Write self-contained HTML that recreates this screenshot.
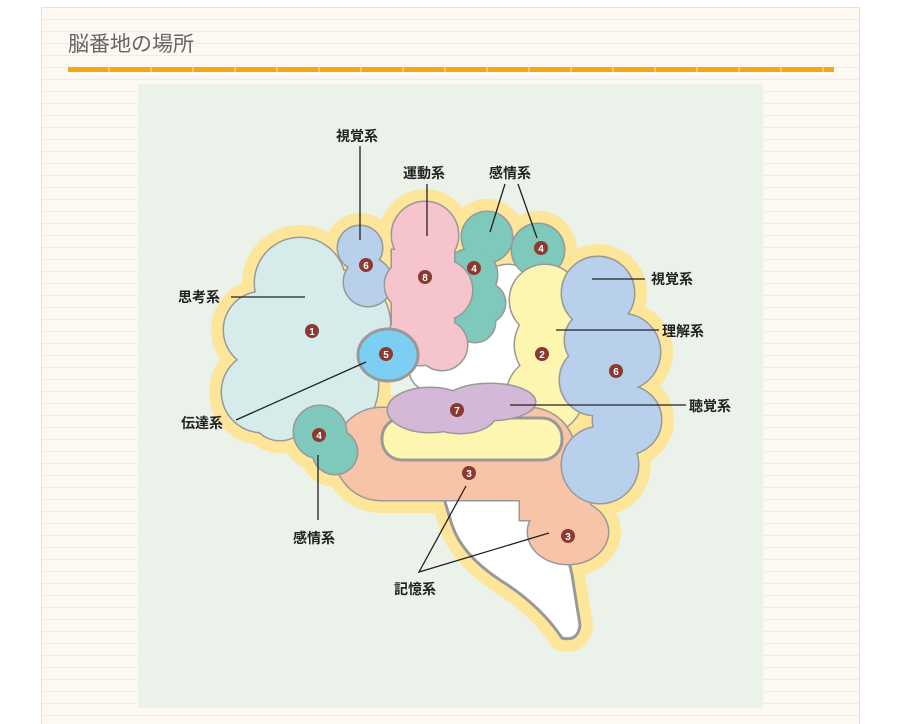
<!DOCTYPE html>
<html><head><meta charset="utf-8"><style>
body{margin:0;width:899px;height:723px;background:#fff;overflow:hidden;font-family:"Liberation Sans","Noto Sans CJK JP",sans-serif}
.card{position:absolute;left:41px;top:7px;width:817px;height:716px;border:1px solid #e6e0d6;border-bottom:none;
background-color:#fdf9f2;background-image:repeating-linear-gradient(to bottom,transparent 0,transparent 11px,#f1ebe1 11px,#f1ebe1 12px)}
.title{position:absolute;left:26px;top:20px;font-size:21px;color:#666;letter-spacing:0px}
.rule{position:absolute;left:26px;top:59px;width:766px;height:5px;background:repeating-linear-gradient(to right,#f2aa10 0,#f2aa10 40px,#f7c860 40px,#f7c860 42px)}
svg{position:absolute;left:0;top:0}
text{font-family:"Liberation Sans","Noto Sans CJK JP",sans-serif;font-weight:bold;font-size:14px;fill:#222}
.n{fill:#fff;font-size:10px;text-anchor:middle}
</style></head><body>
<div class="card"><div class="title">脳番地の場所</div><div class="rule"></div></div>
<svg width="899" height="723" viewBox="0 0 899 723">
<rect x="138" y="84" width="625" height="624" fill="#eaf2ea"/>
<defs>
<g id="r1"><circle cx="300" cy="283" r="45"/><circle cx="262" cy="330" r="38"/><circle cx="262" cy="392" r="40"/><circle cx="320" cy="385" r="58"/><circle cx="335" cy="325" r="55"/><circle cx="280" cy="410" r="30"/></g>
<g id="r6a"><circle cx="360" cy="248" r="22"/><circle cx="368" cy="282" r="24"/></g>
<g id="rw"><circle cx="508" cy="295" r="30"/><circle cx="498" cy="345" r="30"/><circle cx="450" cy="368" r="35"/><rect x="410" y="340" width="110" height="50" rx="20"/></g>
<g id="r4a"><circle cx="487" cy="237" r="25"/><circle cx="471" cy="275" r="26"/><circle cx="485" cy="303" r="20"/><circle cx="475" cy="322" r="20"/></g>
<g id="r4b"><circle cx="538" cy="250" r="26"/></g>
<g id="r8"><circle cx="425" cy="235" r="33"/><circle cx="410" cy="285" r="25"/><circle cx="442" cy="290" r="30"/><circle cx="420" cy="335" r="30"/><circle cx="442" cy="345" r="25"/><rect x="392" y="250" width="62" height="90"/></g>
<g id="r5"><ellipse cx="388" cy="355" rx="30" ry="26"/></g>
<g id="r2"><circle cx="545" cy="300" r="35"/><circle cx="555" cy="345" r="40"/><circle cx="545" cy="395" r="38"/><circle cx="535" cy="415" r="30"/></g>
<g id="r6b"><circle cx="598" cy="293" r="36"/><circle cx="622" cy="352" r="38"/><circle cx="627" cy="420" r="34"/><circle cx="600" cy="465" r="38"/><circle cx="595" cy="380" r="35"/><circle cx="595" cy="340" r="30"/></g>
<g id="rb"><path d="M442,492 L530,492 Q566,540 572,575 L580,625 Q578,642 562,638 Q540,605 500,580 Q462,555 452,525 Z"/></g>
<g id="r3"><rect x="335" y="408" width="240" height="92" rx="46"/><ellipse cx="568" cy="532" rx="40" ry="32"/><rect x="520" y="470" width="70" height="50"/></g>
<g id="r4c"><circle cx="320" cy="432" r="26"/><circle cx="335" cy="452" r="22"/></g>
<g id="ry"><rect x="382" y="418" width="180" height="42" rx="20"/></g>
<g id="r7"><ellipse cx="430" cy="410" rx="42" ry="22"/><ellipse cx="490" cy="402" rx="45" ry="18"/><ellipse cx="460" cy="415" rx="35" ry="18"/></g>
</defs>
<g fill="#fde69a" stroke="#fde69a" stroke-width="26" stroke-linejoin="round">
<use href="#r1"/><use href="#r6a"/><use href="#r8"/><use href="#r4a"/><use href="#r4b"/><use href="#r2"/><use href="#r6b"/><use href="#rb"/><use href="#r3"/><use href="#r4c"/>
</g>
<g stroke="#999" stroke-width="3">
<use href="#r1" fill="#d6ecea"/><use href="#r1" fill="#d6ecea" stroke="none"/>
<use href="#r6a" fill="#b8d0ec"/><use href="#r6a" fill="#b8d0ec" stroke="none"/>
<use href="#rw" fill="#fff"/><use href="#rw" fill="#fff" stroke="none"/>
<use href="#r4a" fill="#7ec8bc"/><use href="#r4a" fill="#7ec8bc" stroke="none"/>
<use href="#r4b" fill="#7ec8bc"/><use href="#r4b" fill="#7ec8bc" stroke="none"/>
<use href="#r8" fill="#f5c4cc"/><use href="#r8" fill="#f5c4cc" stroke="none"/>
<use href="#r5" fill="#7ccff2"/>
<use href="#r2" fill="#fdf6b0"/><use href="#r2" fill="#fdf6b0" stroke="none"/>
<use href="#rb" fill="#fff"/>
<use href="#r3" fill="#f7c4a8"/><use href="#r3" fill="#f7c4a8" stroke="none"/>
<use href="#r6b" fill="#b8d0ec"/><use href="#r6b" fill="#b8d0ec" stroke="none"/>
<use href="#ry" fill="#fdf6b0"/>
<use href="#r4c" fill="#7ec8bc"/><use href="#r4c" fill="#7ec8bc" stroke="none"/>
<use href="#r7" fill="#d4b8d8"/><use href="#r7" fill="#d4b8d8" stroke="none"/>
</g>
<g stroke="#222" stroke-width="1.3" fill="none">
<path d="M360,146 V240"/><path d="M427,184 V236"/><path d="M505,184 L490,232 M518,184 L537,238"/>
<path d="M231,297 H305"/><path d="M592,279 H645"/><path d="M556,330 H659"/><path d="M510,405 H686"/>
<path d="M236,420 L366,362"/><path d="M318,455 V520"/><path d="M466,486 L419,572 L549,533"/>
</g>
<g fill="#8a3a2e">
<circle cx="312" cy="331" r="7"/><circle cx="366" cy="265" r="7"/><circle cx="425" cy="277" r="7"/><circle cx="474" cy="268" r="7"/><circle cx="541" cy="248" r="7"/><circle cx="386" cy="354" r="7"/><circle cx="542" cy="354" r="7"/><circle cx="616" cy="371" r="7"/><circle cx="457" cy="410" r="7"/><circle cx="319" cy="435" r="7"/><circle cx="469" cy="473" r="7"/><circle cx="568" cy="536" r="7"/>
</g>
<g>
<text class="n" x="312" y="335">1</text><text class="n" x="366" y="269">6</text><text class="n" x="425" y="281">8</text><text class="n" x="474" y="272">4</text><text class="n" x="541" y="252">4</text><text class="n" x="386" y="358">5</text><text class="n" x="542" y="358">2</text><text class="n" x="616" y="375">6</text><text class="n" x="457" y="414">7</text><text class="n" x="319" y="439">4</text><text class="n" x="469" y="477">3</text><text class="n" x="568" y="540">3</text>
</g>
<text x="336" y="141">視覚系</text><text x="403" y="178">運動系</text><text x="489" y="178">感情系</text>
<text x="651" y="284">視覚系</text><text x="178" y="302">思考系</text><text x="662" y="336">理解系</text>
<text x="689" y="411">聴覚系</text><text x="181" y="428">伝達系</text><text x="293" y="543">感情系</text><text x="394" y="594">記憶系</text>
</svg>
</body></html>
